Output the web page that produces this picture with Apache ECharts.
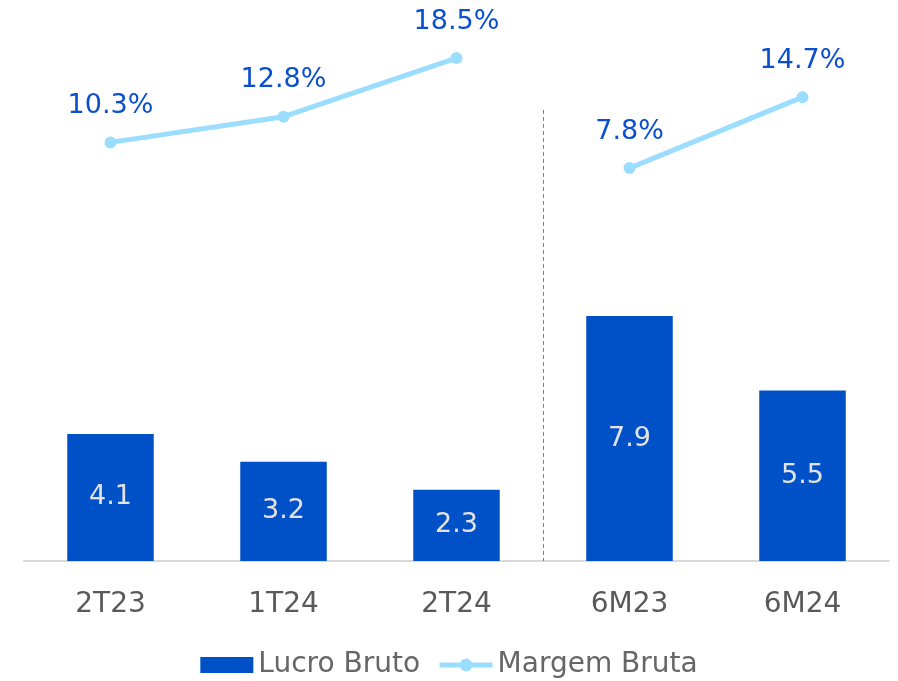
<!DOCTYPE html>
<html>
<head>
<meta charset="utf-8">
<script src="https://cdn.jsdelivr.net/npm/echarts@6/dist/echarts.min.js"></script>
<style>
  html, body { margin: 0; padding: 0; background: #fff; }
  #chart { width: 898px; height: 681px; }
</style>
</head>
<body>
<div id="chart"></div>
<script>
// dados
var categories = ['2T23', '1T24', '2T24', '6M23', '6M24'];
var lucroBruto = [4.1, 3.2, 2.3, 7.9, 5.5];
var margemTrim = [10.3, 12.8, 18.5, null, null];
var margemSem = [null, null, null, 7.8, 14.7];

var font = 'DejaVu Sans';
var lineColor = '#9ADDFF';

var chart = echarts.init(document.getElementById('chart'));

function pctLabel() {
    return {
        show: true,
        position: 'top',
        distance: 17,
        fontSize: 27,
        color: '#0B4FCF',
        fontFamily: font,
        formatter: function (p) { return p.value.toFixed(1) + '%'; }
    };
}

var option = {
    animation: false,
    textStyle: { fontFamily: font },
    grid: { left: 24, right: 9, top: 20, bottom: 120 },
    legend: {
        bottom: 2,
        padding: 0,
        left: 'center',
        itemWidth: 53,
        itemHeight: 16,
        itemGap: 17,
        textStyle: { fontSize: 28, color: '#666666', fontFamily: font },
        data: [
            { name: 'Lucro Bruto', icon: 'rect' },
            { name: 'Margem Bruta', lineStyle: { width: 5, color: lineColor }, itemStyle: { color: lineColor } }
        ]
    },
    xAxis: [
        {
            type: 'category',
            data: categories,
            axisLine: { lineStyle: { color: '#d9d9d9', width: 2 } },
            axisTick: { show: false },
            axisLabel: { fontSize: 28, color: '#595959', margin: 30, fontFamily: font }
        },
        { type: 'value', min: 0, max: 5, show: false, splitLine: { show: false } }
    ],
    yAxis: [
        { type: 'value', min: 0, max: 17.45, show: false, splitLine: { show: false } },
        { type: 'value', min: -30.4, max: 22.2, show: false, splitLine: { show: false } }
    ],
    series: [
        {
            name: 'Lucro Bruto',
            type: 'bar',
            barWidth: '50%',
            data: lucroBruto,
            itemStyle: { color: '#0050C8' },
            label: {
                show: true,
                position: 'inside',
                fontSize: 27,
                color: '#E3E3E3',
                fontFamily: font
            }
        },
        {
            name: 'Margem Bruta',
            type: 'line',
            yAxisIndex: 1,
            data: margemTrim,
            clip: false,
            symbol: 'circle',
            symbolSize: 12,
            lineStyle: { color: lineColor, width: 5 },
            itemStyle: { color: lineColor },
            label: pctLabel()
        },
        {
            name: 'Margem Bruta',
            type: 'line',
            yAxisIndex: 1,
            data: margemSem,
            clip: false,
            symbol: 'circle',
            symbolSize: 12,
            lineStyle: { color: lineColor, width: 5 },
            itemStyle: { color: lineColor },
            label: pctLabel()
        },
        {
            // separador entre trimestres e semestres
            name: 'sep',
            type: 'line',
            xAxisIndex: 1,
            yAxisIndex: 0,
            data: [],
            silent: true,
            markLine: {
                silent: true,
                symbol: 'none',
                label: { show: false },
                lineStyle: { color: '#7f7f7f', type: [4, 3], width: 1 },
                data: [[{ coord: [3, 14.55] }, { coord: [3, 0] }]]
            }
        }
    ]
};

chart.setOption(option);
</script>
</body>
</html>
